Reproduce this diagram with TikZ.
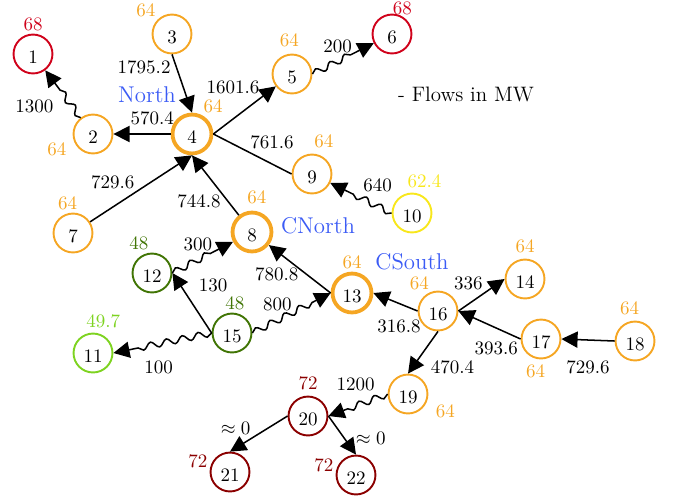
\documentclass[tikz,border=0pt]{standalone}
\usepackage{tikz}
\usetikzlibrary{
  positioning,
  arrows.meta,
  decorations.pathmorphing
}
\definecolor{busorange}{HTML}{F5A623}
\definecolor{busred}{HTML}{D0021B}
\definecolor{busyellow}{HTML}{F8E71C}
\definecolor{buslime}{HTML}{7ED321}
\definecolor{busgreen}{HTML}{417505}
\definecolor{busmaroon}{HTML}{8B0000}
\definecolor{areablue}{HTML}{3B5BF5}
\tikzstyle{bus}=[circle, draw, line width=1pt, minimum size=0.72cm, inner sep=0pt, text height=2.4ex, text depth=0pt]
\tikzstyle{hub}=[bus, line width=2pt]
\tikzstyle{every label}=[inner sep=1pt]
\tikzstyle{mw}=[inner sep=1pt]
\tikzstyle{area}=[text=areablue, font=\large]
\tikzstyle{flow}=[thick, -{Triangle[length=8.5pt, width=8.5pt]}]
\tikzstyle{wave}=[flow, decorate, decoration={snake, amplitude=0.6mm, segment length=3mm, post length=3.5mm}]

\begin{document}
\begin{tikzpicture}[x=0.185mm, y=-0.185mm]
    \useasboundingbox (0,0) rectangle (676,495);

    % Knoten: North
    \node[bus, draw=busred, label={[busred]90:68}] (n1) at (33,54) {1};
    \node[bus, draw=busorange, label={[busorange, label distance=0.9mm]195:64}] (n2) at (93,134) {2};
    \node[bus, draw=busorange, label={[busorange]135:64}] (n3) at (172,34) {3};
    \node[hub, draw=busorange, label={[busorange]64:64}] (n4) at (192,134) {4};
    \node[bus, draw=busorange, label={[busorange, label distance=0.8mm, xshift=-0.5mm]90:64}] (n5) at (292,74) {5};
    \node[bus, draw=busred, label={[busred, label distance=-0.6mm, xshift=1.9mm]90:68}] (n6) at (392,34) {6};
    \node[bus, draw=busorange, label={[busorange, xshift=-1mm]90:64}] (n7) at (73,233) {7};
    \node[bus, draw=busorange, label={[busorange, label distance=0.65mm, xshift=2.2mm]90:64}] (n9) at (312,174) {9};
    \node[bus, draw=busyellow, label={[busyellow, label distance=0.4mm, xshift=2.3mm]90:62.4}] (n10) at (412,213) {10};

    % Knoten: CNorth
    \node[hub, draw=busorange, label={[busorange, label distance=0.75mm, xshift=0.9mm]90:64}] (n8) at (252,232) {8};
    \node[bus, draw=buslime, label={[buslime, label distance=0.5mm, xshift=1.9mm]90:49.7}] (n11) at (93,353) {11};
    \node[bus, draw=busgreen, label={[busgreen]94:48}] (n12) at (152,273) {12};
    \node[bus, draw=busgreen, label={[busgreen, xshift=0.55mm]90:48}] (n15) at (232,333) {15};

    % Knoten: CSouth
    \node[hub, draw=busorange, label={[busorange]90:64}] (n13) at (352,293) {13};
    \node[bus, draw=busorange, label={[busorange, label distance=0.65mm]90:64}] (n14) at (525,279) {14};
    \node[bus, draw=busorange, label={[busorange]110:64}] (n16) at (438,311) {16};
    \node[bus, draw=busorange, label={[busorange, label distance=0.55mm, xshift=-1mm]270:64}] (n17) at (541,339) {17};
    \node[bus, draw=busorange, label={[busorange, label distance=0.55mm, xshift=-1mm]90:64}] (n18) at (635,341) {18};
    \node[bus, draw=busorange, label={[busorange, label distance=1.2mm]342:64}] (n19) at (408,394) {19};
    \node[bus, draw=busmaroon, label={[busmaroon, label distance=0.7mm]90:72}] (n20) at (308,416) {20};
    \node[bus, draw=busmaroon, label={[busmaroon]176:72}] (n21) at (230,472) {21};
    \node[bus, draw=busmaroon, label={[busmaroon]177:72}] (n22) at (356,475) {22};

    % Gebiete
    \node[area] (north) at (147,95) {North};
    \node[area] (cnorth) at (318,226) {CNorth};
    \node[area] (csouth) at (412,262) {CSouth};
    \node[font=\fontsize{11}{13}\selectfont] (unit) at (466,94) {- Flows in MW};

    % Leitungsfluesse
    \draw[wave] (n2) -- node[mw, left=3mm, pos=0.24] {1300} (n1);
    \draw[flow] (n3.south) -- node[mw, left=0.6mm, pos=0.22] {1795.2} (n4.north);
    \draw[flow] (n4.west) -- node[mw, above=1.1mm, pos=0.32] {570.4} (n2.east);
    \draw[flow] (n4.east) -- node[mw, above left, pos=0.78] {1601.6} (n5);
    \draw[wave] (n5.east) -- node[mw, above=1mm, pos=0.41] {200} (n6);
    \draw[thick] (n4.east) -- node[mw, above right, pos=0.44] {761.6} (n9.west);
    \draw[wave] (n10.west) -- node[mw, above=2.1mm, pos=0.23] {640} (n9);
    \draw[flow] (n7) -- node[mw, above left, pos=0.46] {729.6} (n4.south);
    \draw[flow] (n8) -- node[mw, left=0.9mm, pos=0.23] {744.8} (n4.south);
    \draw[wave] (n12.east) -- node[mw, above=1.1mm, pos=0.42] {300} (n8);
    \draw[flow] (n15.west) -- node[mw, right=2.9mm, pos=0.79] {130} (n12.east);
    \draw[wave] (n15.west) -- node[mw, below=2.6mm, pos=0.54] {100} (n11.east);
    \draw[wave] (n15.east) -- node[mw, above=1.2mm, pos=0.32] {800} (n13.west);
    \draw[flow] (n13.west) -- node[mw, left=0.9mm, pos=0.4] {780.8} (n8);
    \draw[flow] (n16.west) -- node[mw, below=2.6mm, pos=0.42] {316.8} (n13.east);
    \draw[flow] (n16.east) -- node[mw, above left, pos=0.58] {336} (n14.west);
    \draw[flow] (n17.west) -- node[mw, below left, pos=0] {393.6} (n16.east);
    \draw[flow] (n18.west) -- node[mw, below=3.3mm, pos=0.5] {729.6} (n17.east);
    \draw[flow] (n16.south) -- node[mw, right=2.9mm, pos=0.85] {470.4} (n19.north);
    \draw[wave] (n19.west) -- node[mw, above=2.2mm, pos=0.54] {1200} (n20.east);
    \draw[flow] (n20.west) -- node[mw, above left, pos=0.6] {$\approx 0$} (n21.north);
    \draw[flow] (n20.east) -- node[mw, right=1.7mm, pos=0.57] {$\approx 0$} (n22.north);
  \end{tikzpicture}
\end{document}
